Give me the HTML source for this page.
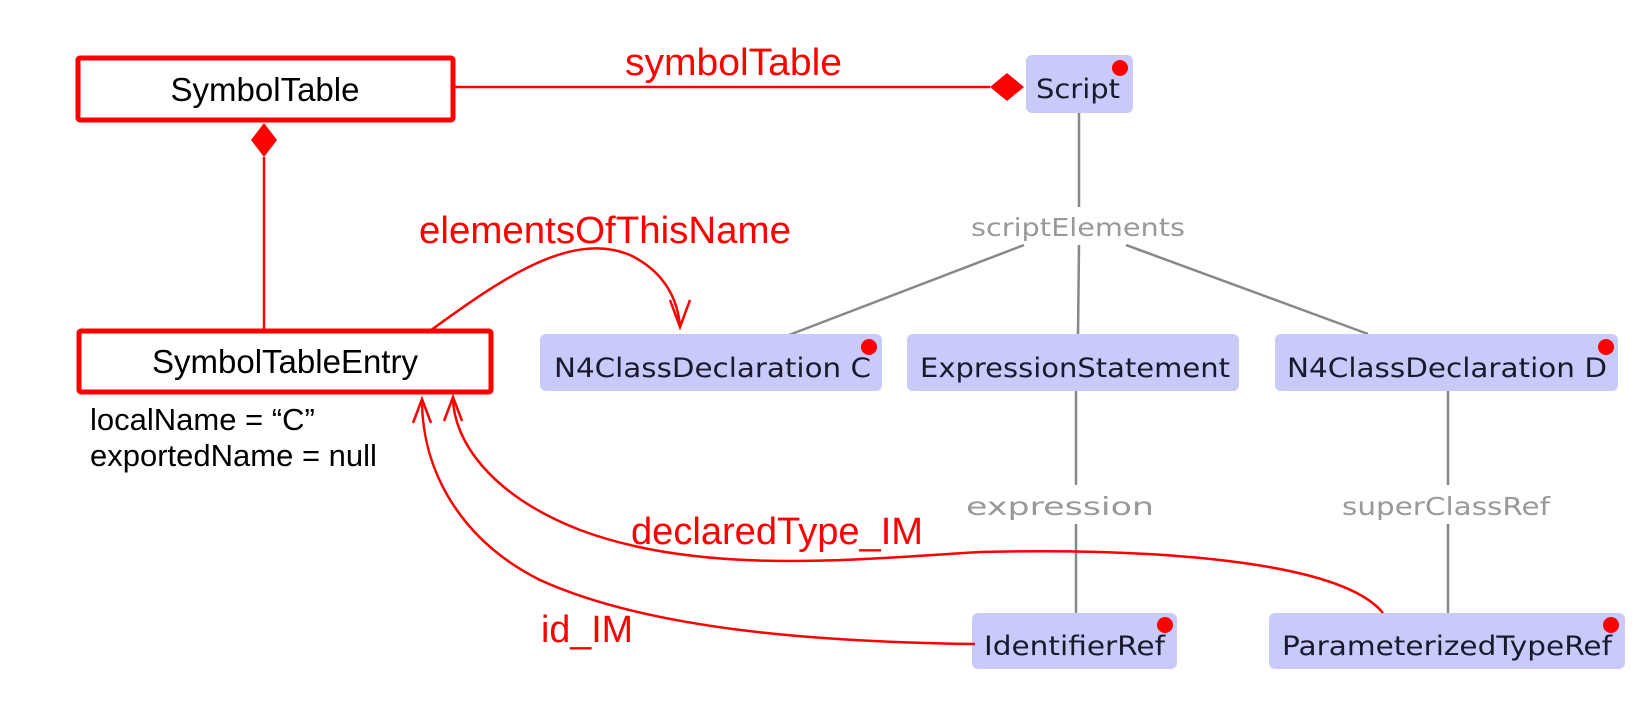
<!DOCTYPE html>
<html><head><meta charset="utf-8"><style>
html,body{margin:0;padding:0;background:#fff;}
svg{display:block;}
.n{font-family:"DejaVu Sans",sans-serif;font-size:27px;fill:#1a1a2e;}
.g{font-family:"DejaVu Sans",sans-serif;font-size:25px;fill:#999;}
.r{font-family:"Liberation Sans",Arial,sans-serif;font-size:38px;fill:#ff0000;}
.b{font-family:"Liberation Sans",Arial,sans-serif;font-size:33px;fill:#000;}
.a{font-family:"Liberation Sans",Arial,sans-serif;font-size:31px;fill:#000;}
</style></head><body>
<svg width="1650" height="709" viewBox="0 0 1650 709" xmlns="http://www.w3.org/2000/svg">
<rect width="1650" height="709" fill="#fff"/>
<g stroke="#888" stroke-width="2.5" fill="none">
<line x1="1079" y1="113" x2="1079" y2="207"/>
<line x1="1024" y1="245" x2="789" y2="335"/>
<line x1="1079" y1="245" x2="1078" y2="335"/>
<line x1="1126" y1="245" x2="1368" y2="334"/>
<line x1="1076" y1="391" x2="1076" y2="485"/>
<line x1="1076" y1="524" x2="1076" y2="613"/>
<line x1="1448" y1="391" x2="1448" y2="485"/>
<line x1="1448" y1="524" x2="1448" y2="613"/>
</g>
<text class="g" x="1078" y="236" text-anchor="middle" textLength="214" lengthAdjust="spacingAndGlyphs">scriptElements</text>
<text class="g" x="1060" y="515" text-anchor="middle" textLength="188" lengthAdjust="spacingAndGlyphs">expression</text>
<text class="g" x="1446" y="515" text-anchor="middle" textLength="208" lengthAdjust="spacingAndGlyphs">superClassRef</text>
<g fill="#c8cbfa">
<rect x="1026" y="55" width="107" height="58" rx="6"/>
<rect x="540" y="334" width="342" height="57" rx="6"/>
<rect x="907" y="334" width="332" height="57" rx="6"/>
<rect x="1275" y="334" width="343" height="57" rx="6"/>
<rect x="972" y="613" width="205" height="56" rx="6"/>
<rect x="1269" y="613" width="356" height="56" rx="6"/>
</g>
<text class="n" x="1036" y="98" textLength="84" lengthAdjust="spacingAndGlyphs">Script</text>
<text class="n" x="554" y="377" textLength="317" lengthAdjust="spacingAndGlyphs">N4ClassDeclaration C</text>
<text class="n" x="920" y="377" textLength="310" lengthAdjust="spacingAndGlyphs">ExpressionStatement</text>
<text class="n" x="1287" y="377" textLength="320" lengthAdjust="spacingAndGlyphs">N4ClassDeclaration D</text>
<text class="n" x="984" y="655" textLength="181" lengthAdjust="spacingAndGlyphs">IdentifierRef</text>
<text class="n" x="1282" y="655" textLength="330" lengthAdjust="spacingAndGlyphs">ParameterizedTypeRef</text>
<g fill="#ff0000">
<circle cx="1120" cy="68" r="8"/>
<circle cx="869" cy="347" r="8"/>
<circle cx="1606" cy="347" r="8"/>
<circle cx="1165" cy="625" r="8"/>
<circle cx="1611" cy="625" r="8"/>
</g>
<g fill="#fff" stroke="#ff0000" stroke-width="5">
<rect x="78" y="58" width="375" height="62" rx="2"/>
<rect x="79" y="331" width="412" height="61" rx="2"/>
</g>
<text class="b" x="265" y="101" text-anchor="middle">SymbolTable</text>
<text class="b" x="285" y="373" text-anchor="middle">SymbolTableEntry</text>
<text class="a" x="90" y="430">localName = “C”</text>
<text class="a" x="90" y="466">exportedName = null</text>
<g stroke="#ff0000" stroke-width="2.5" fill="none">
<line x1="455" y1="87" x2="990" y2="87"/>
<line x1="264" y1="157" x2="264" y2="331"/>
<path d="M427,333 C500,280 570,230 630,255 C665,272 678,300 680,327"/>
<polyline points="670,300 680,327 690,300"/>
<path d="M975,644 C820,642 650,630 540,580 C460,540 422,470 422,400"/>
<polyline points="413,423 422,399 431,423"/>
<path d="M1383,613 C1340,560 1150,548 980,552 C850,560 700,575 580,530 C490,495 453,440 453,397"/>
<polyline points="444,421 453,397 462,421"/>
</g>
<polygon points="990,87 1007,73 1024,87 1007,101" fill="#ff0000"/>
<polygon points="264,123 277,140 264,157 251,140" fill="#ff0000"/>
<text class="r" x="625" y="75" textLength="217" lengthAdjust="spacingAndGlyphs">symbolTable</text>
<text class="r" x="419" y="243" textLength="372" lengthAdjust="spacingAndGlyphs">elementsOfThisName</text>
<text class="r" x="631" y="544" textLength="292" lengthAdjust="spacingAndGlyphs">declaredType_IM</text>
<text class="r" x="541" y="642" textLength="92" lengthAdjust="spacingAndGlyphs">id_IM</text>
</svg>
</body></html>
